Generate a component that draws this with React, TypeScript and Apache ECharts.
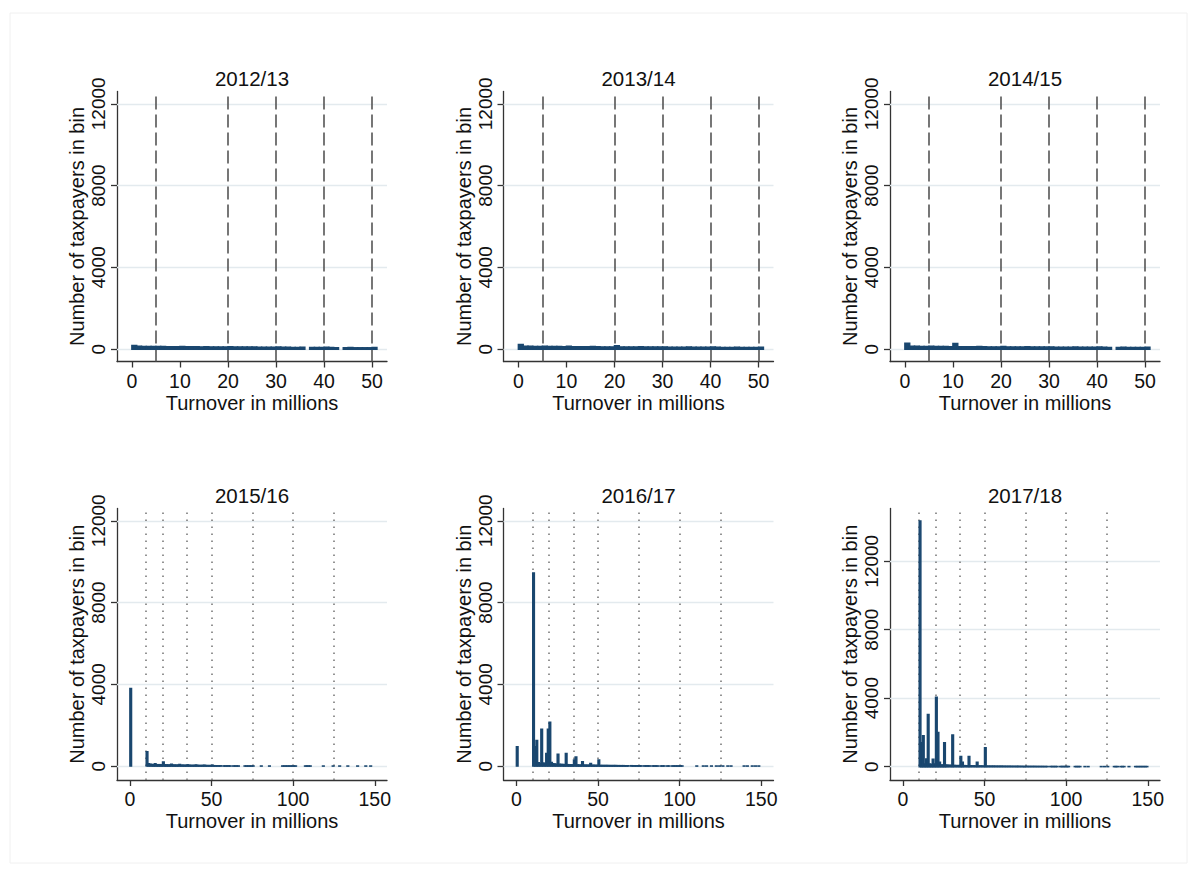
import React, { useEffect, useRef } from "react";
import * as echarts from "echarts";

const panelTitles = ["2012/13", "2013/14", "2014/15", "2015/16", "2016/17", "2017/18"];
const xAxisTitle = "Turnover in millions";
const yAxisTitle = "Number of taxpayers in bin";

const topBins = [0, 1, 2, 3, 4, 5, 6, 7, 8, 9, 10, 11, 12, 13, 14, 15, 16, 17, 18, 19, 20, 21, 22, 23, 24, 25, 26, 27, 28, 29, 30, 31, 32, 33, 34, 35, 36, 37, 38, 39, 40, 41, 42, 43, 44, 45, 46, 47, 48, 49, 50];

const counts1213 = [180, 140, 135, 135, 130, 135, 130, 125, 125, 125, 135, 120, 120, 120, 115, 125, 115, 115, 110, 110, 125, 110, 105, 105, 105, 115, 100, 100, 100, 95, 110, 95, 95, 90, 90, 100, 0, 85, 80, 80, 95, 80, 75, 0, 75, 80, 70, 70, 70, 70, 85];
const counts1314 = [230, 140, 140, 135, 135, 140, 130, 130, 130, 125, 140, 125, 125, 120, 120, 130, 120, 115, 115, 115, 170, 115, 110, 110, 110, 120, 110, 105, 105, 105, 115, 100, 100, 100, 100, 110, 95, 95, 95, 95, 105, 95, 90, 90, 90, 95, 90, 90, 85, 85, 100];
const counts1415 = [290, 140, 140, 135, 135, 140, 130, 130, 130, 125, 280, 125, 125, 120, 120, 130, 120, 115, 115, 115, 135, 115, 110, 110, 110, 120, 110, 105, 105, 105, 115, 100, 100, 100, 100, 110, 95, 95, 95, 95, 105, 95, 90, 0, 90, 95, 90, 90, 85, 85, 100];

// [bin start (millions), taxpayers in bin]
const bins1516 = [[0, 3800], [10, 700], [11, 110], [12, 90], [13, 80], [14, 70], [15, 110], [16, 70], [17, 65], [18, 70], [19, 60], [20, 200], [21, 65], [22, 60], [23, 55], [24, 55], [25, 90], [26, 55], [27, 50], [28, 50], [29, 45], [30, 80], [31, 45], [32, 45], [33, 40], [34, 40], [35, 60], [36, 40], [37, 35], [38, 35], [39, 35], [40, 55], [41, 35], [42, 30], [43, 30], [44, 30], [45, 45], [46, 30], [47, 25], [48, 25], [49, 25], [50, 45], [51, 20], [52, 15], [53, 15], [54, 12], [55, 15], [57, 10], [58, 10], [59, 10], [60, 12], [61, 8], [63, 8], [64, 8], [65, 8], [66, 6], [70, 8], [71, 6], [72, 6], [73, 6], [74, 6], [75, 8], [80, 5], [85, 5], [93, 5], [94, 5], [95, 5], [96, 5], [97, 5], [98, 5], [99, 5], [100, 6], [101, 5], [107, 5], [108, 5], [109, 5], [110, 5], [118, 4], [124, 4], [128, 4], [133, 4], [139, 4], [144, 4], [147, 4]];
const bins1617 = [[0, 950], [10, 9450], [11, 950], [12, 1250], [13, 160], [14, 120], [15, 1800], [16, 150], [17, 120], [18, 620], [19, 1800], [20, 2150], [21, 180], [22, 120], [23, 100], [24, 90], [25, 580], [26, 90], [27, 80], [28, 80], [29, 70], [30, 620], [31, 70], [32, 60], [33, 60], [34, 60], [35, 300], [36, 450], [37, 60], [38, 50], [39, 50], [40, 210], [41, 50], [42, 45], [43, 45], [44, 40], [45, 130], [46, 40], [47, 40], [48, 35], [49, 35], [50, 300], [51, 30], [52, 30], [53, 28], [54, 28], [55, 30], [56, 26], [57, 25], [58, 25], [59, 24], [60, 28], [61, 22], [62, 22], [63, 20], [64, 20], [65, 22], [66, 18], [67, 18], [68, 18], [70, 20], [71, 15], [72, 15], [73, 15], [74, 15], [75, 18], [76, 12], [78, 12], [79, 12], [80, 14], [81, 10], [83, 10], [84, 10], [85, 10], [86, 8], [88, 8], [89, 8], [90, 10], [92, 8], [93, 8], [95, 8], [96, 8], [97, 8], [98, 8], [99, 8], [100, 10], [101, 8], [110, 5], [114, 5], [116, 5], [119, 5], [122, 5], [124, 5], [126, 5], [129, 5], [131, 5], [139, 5], [141, 5], [144, 5], [146, 5], [148, 5]];
const bins1718 = [[10, 14350], [11, 1400], [12, 1800], [13, 150], [14, 450], [15, 3050], [16, 150], [17, 120], [18, 430], [19, 150], [20, 4050], [21, 2000], [22, 250], [23, 100], [24, 90], [25, 1400], [26, 90], [27, 80], [28, 80], [29, 70], [30, 1850], [31, 70], [32, 60], [33, 60], [34, 60], [35, 600], [36, 250], [37, 60], [38, 55], [39, 50], [40, 600], [41, 50], [42, 45], [43, 45], [44, 40], [45, 250], [46, 40], [47, 40], [48, 35], [49, 35], [50, 1100], [51, 30], [52, 30], [53, 28], [54, 28], [55, 30], [56, 26], [57, 25], [58, 25], [59, 24], [60, 28], [61, 22], [62, 22], [63, 20], [64, 20], [65, 22], [66, 18], [67, 18], [68, 18], [69, 16], [70, 20], [71, 15], [72, 15], [73, 15], [74, 15], [75, 18], [76, 12], [77, 12], [78, 12], [79, 12], [80, 14], [81, 10], [82, 10], [83, 10], [84, 10], [85, 10], [86, 8], [87, 8], [88, 8], [90, 10], [91, 8], [92, 8], [93, 8], [94, 8], [96, 8], [97, 8], [98, 8], [99, 8], [100, 10], [101, 8], [105, 6], [106, 6], [107, 6], [108, 6], [111, 5], [113, 5], [121, 5], [123, 5], [125, 5], [129, 5], [130, 5], [131, 5], [133, 5], [134, 5], [135, 5], [138, 5], [142, 5], [143, 5], [144, 5], [145, 5], [146, 5], [147, 5], [148, 5], [149, 5]];

const topTicksX = [0, 10, 20, 30, 40, 50];
const bottomTicksX = [0, 50, 100, 150];
const yTicks = [0, 4000, 8000, 12000];
const topRefLines = [5, 20, 30, 40, 50];
const bottomRefLines = [10, 20, 35, 50, 75, 100, 125];

const BAR = "#1a476f";
const FONT = "'Liberation Sans', Arial, sans-serif";

export default function App() {
  const ref = useRef<HTMLDivElement>(null);

  useEffect(() => {
    if (!ref.current) return;
    const chart = echarts.init(ref.current, undefined, { renderer: "svg" });

    const topData = [counts1213, counts1314, counts1415].map((c) =>
      topBins.map((b, i) => [b, c[i]]).filter((d) => d[1] > 0)
    );
    const panels = [
      { data: topData[0], ticks: topTicksX, refs: topRefLines, xr: [-3.1, 53.1], yr: [-600, 12600], dashed: true },
      { data: topData[1], ticks: topTicksX, refs: topRefLines, xr: [-3.1, 53.1], yr: [-600, 12600], dashed: true },
      { data: topData[2], ticks: topTicksX, refs: topRefLines, xr: [-3.1, 53.1], yr: [-600, 12600], dashed: true },
      { data: bins1516, ticks: bottomTicksX, refs: bottomRefLines, xr: [-7.9, 157.5], yr: [-680, 12600], dashed: false },
      { data: bins1617, ticks: bottomTicksX, refs: bottomRefLines, xr: [-7.9, 157.5], yr: [-680, 12600], dashed: false },
      { data: bins1718, ticks: bottomTicksX, refs: bottomRefLines, xr: [-7.9, 157.5], yr: [-780, 15080], dashed: false },
    ];
    const lefts = [117, 503.5, 890];
    const tops = [91.5, 508.5];
    const W = 270;
    const heights = [270, 271.5];

    const grid: any[] = [];
    const xAxis: any[] = [];
    const yAxis: any[] = [];
    const series: any[] = [];
    const title: any[] = [];

    panels.forEach((p, i) => {
      const row = Math.floor(i / 3);
      const col = i % 3;
      grid.push({ left: lefts[col], top: tops[row], width: W, height: heights[row], containLabel: false });
      title.push({
        text: panelTitles[i],
        left: lefts[col] + W / 2,
        top: tops[row] - 24,
        textAlign: "center",
        padding: 0,
        textStyle: { fontFamily: FONT, fontSize: 20.5, fontWeight: "normal", color: "#111" },
      });
      const axisLine = { show: true, onZero: false, lineStyle: { color: "#333", width: 1.3 } };
      xAxis.push({
        type: "value",
        gridIndex: i,
        min: p.xr[0],
        max: p.xr[1],
        axisLine,
        axisTick: { show: true, length: 6, customValues: p.ticks, lineStyle: { color: "#333", width: 1.3 } },
        axisLabel: {
          customValues: p.ticks,
          formatter: (v: number) => String(v),
          fontFamily: FONT,
          fontSize: 19.5,
          color: "#111",
          margin: 9,
        },
        splitLine: { show: false },
        name: xAxisTitle,
        nameLocation: "middle",
        nameGap: 31,
        nameTextStyle: { fontFamily: FONT, fontSize: 20, color: "#111" },
      });
      yAxis.push({
        type: "value",
        gridIndex: i,
        min: p.yr[0],
        max: p.yr[1],
        axisLine,
        axisTick: { show: true, length: 6, customValues: yTicks, lineStyle: { color: "#333", width: 1.3 } },
        axisLabel: {
          customValues: yTicks,
          formatter: (v: number) => String(v),
          rotate: 90,
          fontFamily: FONT,
          fontSize: 19,
          color: "#111",
          margin: 9,
        },
        splitLine: { show: false },
        name: yAxisTitle,
        nameLocation: "middle",
        nameGap: 30,
        nameRotate: 90,
        nameTextStyle: { fontFamily: FONT, fontSize: 20, color: "#111" },
      });
      // light horizontal grid lines behind the bars
      series.push({
        type: "line",
        xAxisIndex: i,
        yAxisIndex: i,
        data: [],
        silent: true,
        markLine: {
          z: 1,
          silent: true,
          symbol: "none",
          label: { show: false },
          lineStyle: { color: "#e3eaee", width: 1.3, type: "solid" },
          data: yTicks.map((v) => ({ yAxis: v })),
        },
      });
      series.push({
        type: "custom",
        xAxisIndex: i,
        yAxisIndex: i,
        z: 3,
        data: p.data,
        encode: { x: 0, y: 1 },
        renderItem: (params: any, api: any) => {
          const x = api.value(0);
          const y = api.value(1);
          const p0 = api.coord([x, 0]);
          const p1 = api.coord([x + 1, y]);
          return {
            type: "rect",
            shape: { x: p0[0], y: p1[1], width: p1[0] - p0[0], height: p0[1] - p1[1] },
            style: { fill: BAR, stroke: BAR, lineWidth: 1.5 },
          };
        },
        markLine: {
          z: 2,
          silent: true,
          symbol: "none",
          label: { show: false },
          lineStyle: p.dashed
            ? { color: "#555", width: 1.6, type: [13, 5] }
            : { color: "#7a7a7a", width: 1.6, type: [1.6, 5.4] },
          data: p.refs.map((v) => ({ xAxis: v })),
        },
      });
    });

    chart.setOption({
      animation: false,
      backgroundColor: "#ffffff",
      title,
      grid,
      xAxis,
      yAxis,
      series,
      graphic: [
        {
          type: "rect",
          shape: { x: 10, y: 13, width: 1177, height: 850 },
          style: { fill: "none", stroke: "#f0f0f0", lineWidth: 1 },
          silent: true,
        },
      ],
    });
    return () => chart.dispose();
  }, []);

  return (
    <div
      ref={ref}
      style={{ position: "fixed", left: 0, top: 0, width: 1198, height: 876, background: "#fff" }}
    />
  );
}
